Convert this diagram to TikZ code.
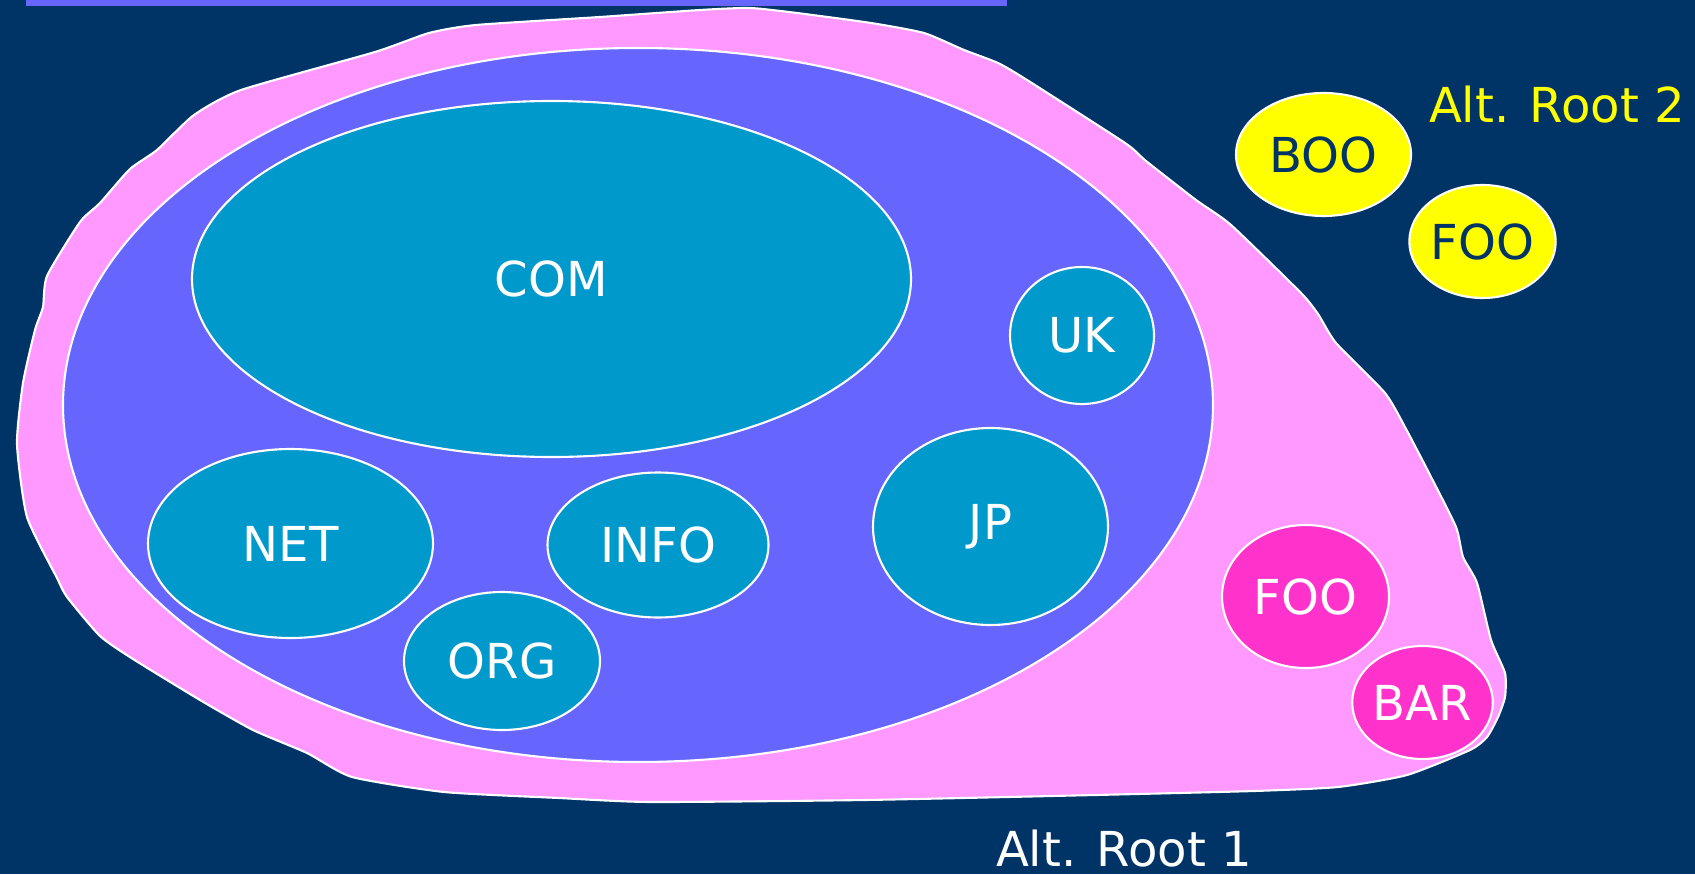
\documentclass[tikz,border=0pt]{standalone}
\usepackage{fontspec}
\setmainfont{DejaVu Sans}
\usetikzlibrary{shapes.geometric}

\definecolor{navy}{RGB}{0,51,102}
\definecolor{rootpink}{RGB}{255,153,255}
\definecolor{rootblue}{RGB}{102,102,255}
\definecolor{tldteal}{RGB}{0,153,204}
\definecolor{altmagenta}{RGB}{255,51,204}
\definecolor{altyellow}{RGB}{255,255,0}

\begin{document}
\begin{tikzpicture}[
    lbl/.style={font=\fontsize{13.7}{16}\selectfont},
    dom/.style={ellipse, draw=white, line width=0.6pt, inner sep=0pt, lbl},
    tld/.style={dom, fill=tldteal, text=white},
    altA/.style={dom, fill=altmagenta, text=white},
    altB/.style={dom, fill=altyellow, text=navy}
]
    
    % Fundo
    \useasboundingbox (0,0) rectangle (16.95,8.74);
    \fill[navy] (0,0) rectangle (16.95,8.74);
    \fill[rootblue] (0.26,8.68) rectangle (10.07,8.74);
    
    % Raiz alternativa 1 (mancha rosa)
    \draw[fill=rootpink, draw=white, line width=0.6pt] plot[smooth cycle, tension=0.35] coordinates {
        (7.50,8.66) (7.97,8.61) (8.71,8.51) (9.24,8.41) (9.64,8.24) (9.98,8.11)
        (10.27,7.94) (11.25,7.31) (11.46,7.13) (11.96,6.74) (12.31,6.49)
        (13.01,5.81) (13.18,5.60) (13.36,5.31) (13.85,4.81) (14.06,4.45)
        (14.30,3.99) (14.56,3.47) (14.63,3.17) (14.77,2.91) (14.91,2.34)
        (15.05,2.01) (15.05,1.77) (14.98,1.57) (14.87,1.37) (14.70,1.24)
        (14.07,0.99) (13.38,0.87) (12.54,0.83) (10.95,0.79) (8.65,0.74)
        (6.51,0.72) (5.59,0.76) (4.44,0.82) (3.52,0.97) (3.07,1.21)
        (2.53,1.44) (2.00,1.74) (1.33,2.15) (1.00,2.38) (0.67,2.77)
        (0.57,2.96) (0.27,3.57) (0.17,4.30) (0.23,4.91) (0.35,5.44)
        (0.43,5.67) (0.47,5.98) (0.80,6.52) (1.00,6.71) (1.30,7.05)
        (1.57,7.24) (1.94,7.59) (2.41,7.84) (3.75,8.22) (4.29,8.41)
        (4.76,8.49) (6.00,8.57) (7.00,8.64)};
    
    % Raiz oficial (elipse azul)
    \node[dom, fill=rootblue, minimum width=11.50cm, minimum height=7.14cm] (root) at (6.38,4.69) {};
    
    % Dominios de topo
    \node[tld, minimum width=7.19cm, minimum height=3.56cm] (COM) at (5.515,5.95) {COM};
    \node[tld, minimum width=2.85cm, minimum height=1.89cm] (NET) at (2.905,3.305) {NET};
    \node[tld, minimum width=2.21cm, minimum height=1.45cm] (INFO) at (6.58,3.29) {INFO};
    \node[tld, minimum width=1.96cm, minimum height=1.38cm] (ORG) at (5.02,2.13) {ORG};
    \node[tld, minimum width=2.35cm, minimum height=1.97cm] (JP) at (9.905,3.475) {JP};
    \node[tld, minimum width=1.44cm, minimum height=1.37cm] (UK) at (10.82,5.385) {UK};
    
    % Dominios das raizes alternativas
    \node[altA, minimum width=1.67cm, minimum height=1.43cm] (FOOa) at (13.055,2.775) {FOO};
    \node[altA, minimum width=1.29cm, minimum height=1.13cm] (BAR) at (14.225,1.715) {BAR};
    \node[altB, minimum width=1.75cm, minimum height=1.23cm] (BOO) at (13.235,7.195) {BOO};
    \node[altB, minimum width=1.45cm, minimum height=1.13cm] (FOOb) at (14.825,6.325) {FOO};
    
    % Rotulos
    \node[lbl, inner sep=0pt, text=white] (rootA) at (11.24,0.25) {Alt. Root 1};
    \node[lbl, inner sep=0pt, text=altyellow] (rootB) at (15.57,7.69) {Alt. Root 2};
    
\end{tikzpicture}
\end{document}
